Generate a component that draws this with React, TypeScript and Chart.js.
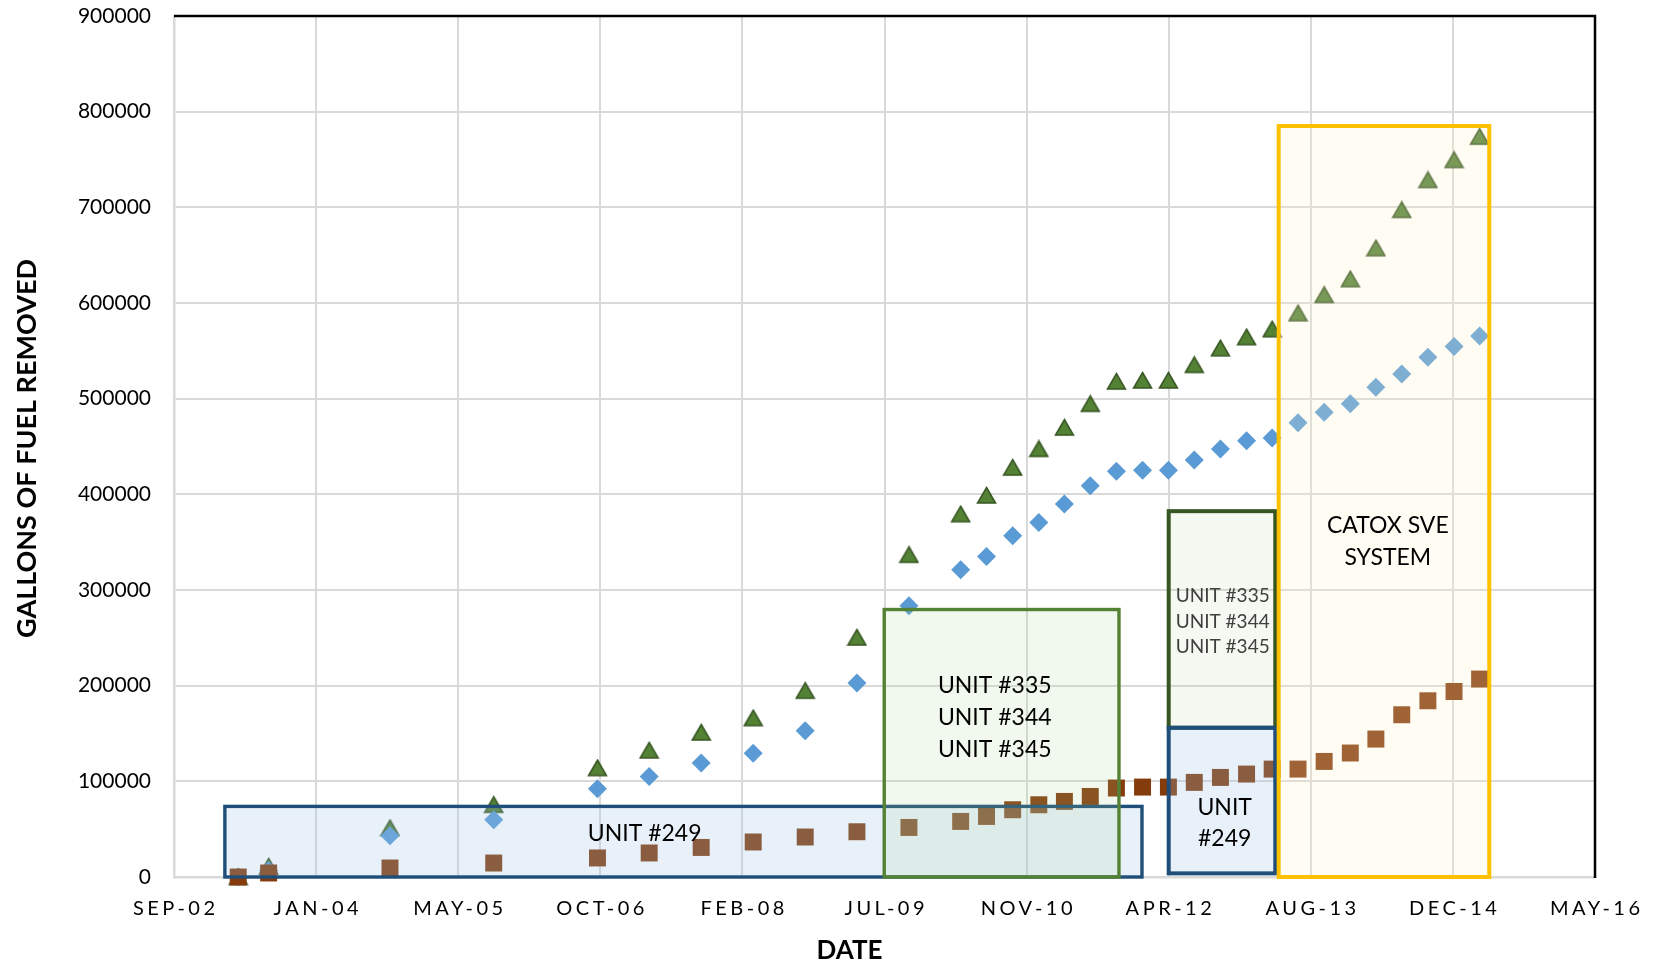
import React, { useEffect, useRef } from 'react';
import { Chart, registerables } from 'chart.js';

Chart.register(...registerables);

// Sampling dates (quarter ends from 2009 onward)
const sampleDates = [
  '2003-04-15', '2003-07-31', '2004-09-30', '2005-09-30', '2006-09-30', '2007-03-31',
  '2007-09-30', '2008-03-31', '2008-09-30', '2009-03-31', '2009-09-30', '2010-03-31',
  '2010-06-30', '2010-09-30', '2010-12-31', '2011-03-31', '2011-06-30', '2011-09-30',
  '2011-12-31', '2012-03-31', '2012-06-30', '2012-09-30', '2012-12-31', '2013-03-31',
  '2013-06-30', '2013-09-30', '2013-12-31', '2014-03-31', '2014-06-30', '2014-09-30',
  '2014-12-31', '2015-03-31',
];

// Cumulative gallons removed, brown square series
const gallonsSeriesA = [
  0, 4200, 9400, 14600, 19900, 25100, 30900, 36600, 41800, 47300, 51800, 58100,
  63300, 70300, 75500, 79000, 84200, 93000, 94000, 94000, 98900, 104100, 107600, 112800,
  112800, 120800, 129600, 144200, 169600, 184200, 193900, 206900,
];

// Cumulative gallons removed, blue diamond series
const gallonsSeriesB = [
  0, 6800, 43200, 59900, 92300, 105100, 119100, 129300, 152900, 202700, 283500, 321100,
  335000, 356600, 370500, 389800, 408900, 424200, 425300, 425300, 436000, 447500, 456000, 459000,
  474800, 485900, 494600, 512000, 525900, 543400, 554400, 565600,
];

// Cumulative gallons removed, all units (green triangles)
const gallonsTotal = [
  0, 11000, 51200, 75500, 113900, 132300, 151100, 166100, 194700, 250400, 336800, 379300,
  398800, 428000, 447500, 469800, 494600, 517900, 519000, 519000, 535300, 552700, 564300, 572600,
  589300, 608500, 624900, 657300, 697300, 728600, 749500, 773900,
];

// Axis range and ticks
const xAxisStart = '2002-09-01';
const xAxisEnd = '2016-05-10';
const xTickDays = 500;
const yAxisMax = 900000;
const yTickStep = 100000;
const monthNames = ['JAN', 'FEB', 'MAR', 'APR', 'MAY', 'JUN', 'JUL', 'AUG', 'SEP', 'OCT', 'NOV', 'DEC'];

// Operating periods of the treatment units
const periodFrom = ['2003-02-27', '2009-07-05', '2012-04-01', '2012-04-01', '2013-04-23'];
const periodTo = ['2011-12-29', '2011-10-09', '2013-04-11', '2013-04-11', '2015-05-04'];
const periodLow = [0, 0, 156000, 3800, 0];
const periodHigh = [73800, 279600, 382400, 156000, 785000];
const periodText = [
  ['UNIT #249'],
  ['UNIT #335', 'UNIT #344', 'UNIT #345'],
  ['UNIT #335', 'UNIT #344', 'UNIT #345'],
  ['UNIT', '#249'],
  ['CATOX SVE', 'SYSTEM'],
];
const periodTextDate = ['2007-03-15', '2010-07-29', '2012-10-08', '2012-10-15', '2014-05-12'];
const periodTextValue = [46000, 167500, 267500, 57300, 351600];

const periodStyles = [
  { stroke: '#1F4E79', fill: 'rgba(157,195,230,0.24)', width: 3.4, size: 23, color: '#000000', gap: 32 },
  { stroke: '#548235', fill: 'rgba(169,209,142,0.16)', width: 3.4, size: 23, color: '#000000', gap: 32.2 },
  { stroke: '#375623', fill: 'rgba(169,209,142,0.12)', width: 4, size: 19, color: '#404040', gap: 25.5 },
  { stroke: '#1F4E79', fill: 'rgba(157,195,230,0.24)', width: 4, size: 23, color: '#000000', gap: 31.7 },
  { stroke: '#FFC000', fill: 'rgba(255,242,204,0.22)', width: 4, size: 23, color: '#000000', gap: 31.7 },
];

const EXCEL_EPOCH = Date.UTC(1899, 11, 30);
const DAY_MS = 86400000;
// Lato capital height as a share of the font size, used to centre capitals on a line
const CAP_MID = 0.358;

function toSerial(iso: string): number {
  const [y, m, d] = iso.split('-').map(Number);
  return Math.round((Date.UTC(y, m - 1, d) - EXCEL_EPOCH) / DAY_MS);
}

function serialLabel(serial: number): string {
  const d = new Date(EXCEL_EPOCH + serial * DAY_MS);
  return `${monthNames[d.getUTCMonth()]}-${String(d.getUTCFullYear() % 100).padStart(2, '0')}`;
}

function makeTriangle(): HTMLCanvasElement {
  const c = document.createElement('canvas');
  c.width = 21;
  c.height = 19;
  const g = c.getContext('2d') as CanvasRenderingContext2D;
  g.beginPath();
  g.moveTo(10.5, 1.5);
  g.lineTo(19.5, 17);
  g.lineTo(1.5, 17);
  g.closePath();
  g.fillStyle = '#548235';
  g.fill();
  g.lineWidth = 1.5;
  g.strokeStyle = '#375623';
  g.stroke();
  return c;
}

const FONT = 'Lato, "Open Sans", sans-serif';

const periodPlugin = {
  id: 'periodBoxes',
  afterDatasetsDraw(chart: any) {
    const { ctx } = chart;
    const xs = chart.scales.x;
    const ys = chart.scales.y;
    ctx.save();
    periodFrom.forEach((from, i) => {
      const st = periodStyles[i];
      const x1 = xs.getPixelForValue(toSerial(from));
      const x2 = xs.getPixelForValue(toSerial(periodTo[i]));
      const y1 = ys.getPixelForValue(periodHigh[i]);
      const y2 = ys.getPixelForValue(periodLow[i]);
      ctx.fillStyle = st.fill;
      ctx.fillRect(x1, y1, x2 - x1, y2 - y1);
      ctx.lineWidth = st.width;
      ctx.strokeStyle = st.stroke;
      ctx.strokeRect(x1, y1, x2 - x1, y2 - y1);
    });
    ctx.textAlign = 'center';
    ctx.textBaseline = 'alphabetic';
    periodText.forEach((lines, i) => {
      const st = periodStyles[i];
      const cx = xs.getPixelForValue(toSerial(periodTextDate[i]));
      const cy = ys.getPixelForValue(periodTextValue[i]);
      ctx.font = `${st.size}px ${FONT}`;
      ctx.fillStyle = st.color;
      lines.forEach((line, k) => {
        const dy = (k - (lines.length - 1) / 2) * st.gap;
        ctx.fillText(line, cx, cy + dy + st.size * CAP_MID);
      });
    });
    ctx.restore();
  },
  afterDraw(chart: any) {
    const { ctx, chartArea } = chart;
    const xs = chart.scales.x;
    ctx.save();
    // black frame on the top and right of the plot area
    ctx.strokeStyle = '#000000';
    ctx.lineWidth = 2.5;
    ctx.beginPath();
    ctx.moveTo(chartArea.left, chartArea.top);
    ctx.lineTo(chartArea.right, chartArea.top);
    ctx.lineTo(chartArea.right, chartArea.bottom + 1);
    ctx.stroke();

    // date tick labels with wide letter spacing
    ctx.fillStyle = '#000000';
    ctx.font = `20px ${FONT}`;
    ctx.textAlign = 'center';
    ctx.textBaseline = 'alphabetic';
    (ctx as any).letterSpacing = '3.5px';
    xs.ticks.forEach((t: any) => {
      const px = xs.getPixelForValue(t.value);
      ctx.fillText(serialLabel(t.value), px + 1.75, chartArea.bottom + 31 + 20 * CAP_MID);
    });
    (ctx as any).letterSpacing = '0px';

    // axis titles
    ctx.font = `bold 26px ${FONT}`;
    ctx.fillText('DATE', (chartArea.left + chartArea.right) / 2 - 35, chartArea.bottom + 73 + 26 * CAP_MID);
    ctx.translate(26, (chartArea.top + chartArea.bottom) / 2 + 2);
    ctx.rotate(-Math.PI / 2);
    ctx.font = `bold 27px ${FONT}`;
    ctx.fillText('GALLONS OF FUEL REMOVED', 0, 27 * CAP_MID);
    ctx.restore();
  },
};

export default function App() {
  const canvasRef = useRef<HTMLCanvasElement | null>(null);

  useEffect(() => {
    document.body.style.margin = '0';
    const canvas = canvasRef.current;
    if (!canvas) return;
    const xs = sampleDates.map(toSerial);
    const pts = (vals: number[]) => vals.map((v, i) => ({ x: xs[i], y: v }));
    const triangle = makeTriangle();

    const gridLine = { color: '#D9D9D9', lineWidth: 2, drawTicks: false };
    const axisBorder = { display: true, color: '#D9D9D9', width: 2.5 };

    const chart = new Chart(canvas, {
      type: 'scatter',
      data: {
        datasets: [
          {
            label: 'A',
            data: pts(gallonsSeriesA),
            pointStyle: 'rect',
            pointRadius: 12,
            backgroundColor: '#843C0C',
            borderWidth: 0,
            order: 0,
            clip: false,
          },
          {
            label: 'B',
            data: pts(gallonsSeriesB),
            pointStyle: 'rectRot',
            pointRadius: 9.5,
            backgroundColor: '#5B9BD5',
            borderWidth: 0,
            order: 1,
            clip: false,
          },
          {
            label: 'Total',
            data: pts(gallonsTotal),
            pointStyle: triangle,
            pointRadius: 10,
            backgroundColor: '#548235',
            borderWidth: 0,
            order: 2,
            clip: false,
          },
        ] as any,
      },
      options: {
        responsive: false,
        animation: false,
        events: [],
        layout: { padding: { top: 16, right: 61, left: 0, bottom: 0 } },
        plugins: { legend: { display: false }, tooltip: { enabled: false } },
        scales: {
          x: {
            type: 'linear',
            min: toSerial(xAxisStart),
            max: toSerial(xAxisEnd),
            afterFit: (s: any) => { s.height = 90; },
            ticks: { display: false, stepSize: xTickDays },
            grid: gridLine,
            border: axisBorder,
          },
          y: {
            type: 'linear',
            min: 0,
            max: yAxisMax,
            afterFit: (s: any) => {
              s.width = 174;
              s.paddingTop = 8;
              s.paddingBottom = 8;
            },
            ticks: {
              stepSize: yTickStep,
              padding: 23,
              color: '#000000',
              font: { family: FONT, size: 21 },
              callback: (v: any) => String(v),
            },
            grid: gridLine,
            border: axisBorder,
          },
        },
      } as any,
      plugins: [periodPlugin],
    });
    return () => chart.destroy();
  }, []);

  return (
    <div style={{ width: 1656, height: 967 }}>
      <canvas ref={canvasRef} width={1656} height={967} style={{ display: 'block' }} />
    </div>
  );
}
